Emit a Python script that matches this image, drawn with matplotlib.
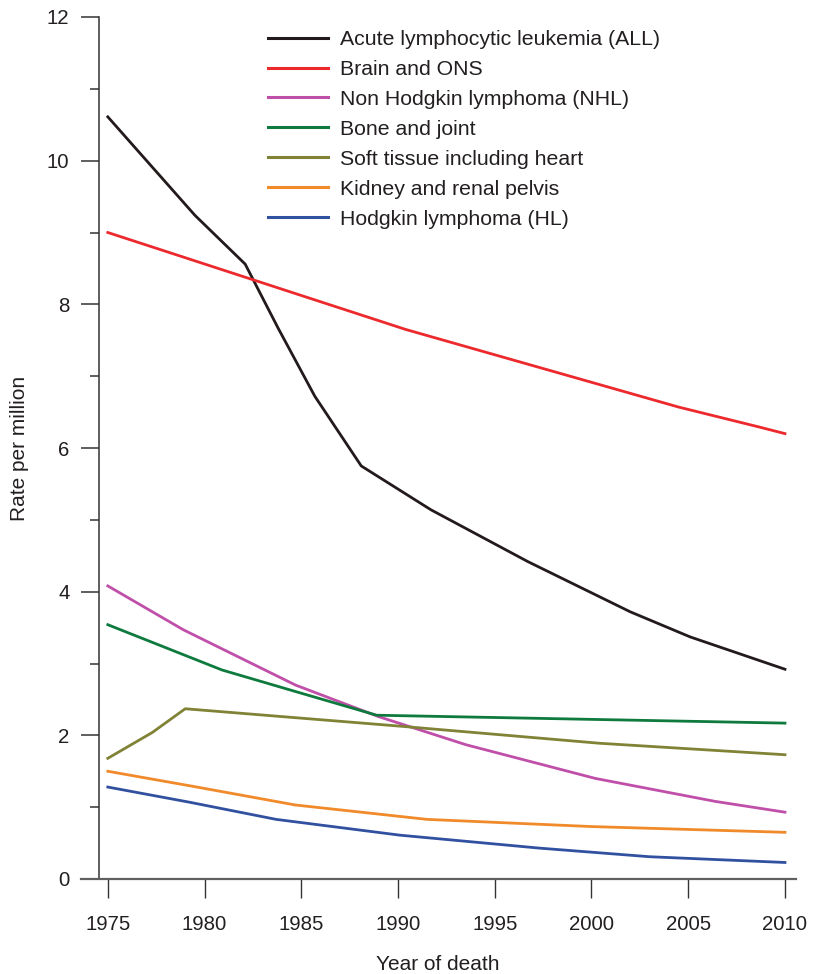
import matplotlib
matplotlib.use("Agg")
import matplotlib.pyplot as plt
from matplotlib.ticker import MultipleLocator

plt.rcParams['font.family'] = ['Liberation Sans', 'DejaVu Sans']

# ---- data ----
all_years = [1975, 1979.5, 1982.1, 1983.8, 1985.7, 1988.1, 1991.7, 1996.7, 2002.0, 2005.1, 2010]
all_rates = [10.61, 9.24, 8.56, 7.67, 6.72, 5.75, 5.14, 4.42, 3.72, 3.37, 2.92]

brain_years = [1975, 1990.4, 2004.5, 2008.7, 2010]
brain_rates = [9.0, 7.65, 6.57, 6.29, 6.20]

nhl_years = [1975, 1978.9, 1984.7, 1989.0, 1993.5, 2000.2, 2006.4, 2010]
nhl_rates = [4.08, 3.47, 2.70, 2.26, 1.87, 1.40, 1.08, 0.93]

bone_years = [1975, 1980.9, 1984.7, 1988.9, 2010]
bone_rates = [3.54, 2.91, 2.61, 2.28, 2.17]

soft_years = [1975, 1977.3, 1979.0, 1990.0, 2000.4, 2010]
soft_rates = [1.68, 2.04, 2.37, 2.13, 1.89, 1.73]

kidney_years = [1975, 1979.4, 1984.7, 1991.5, 2000.0, 2010]
kidney_rates = [1.50, 1.29, 1.03, 0.83, 0.73, 0.65]

hl_years = [1975, 1979.2, 1983.7, 1990.1, 1997.3, 2003.0, 2010]
hl_rates = [1.28, 1.07, 0.83, 0.61, 0.43, 0.31, 0.23]

labels = ["Acute lymphocytic leukemia (ALL)", "Brain and ONS", "Non Hodgkin lymphoma (NHL)",
          "Bone and joint", "Soft tissue including heart", "Kidney and renal pelvis",
          "Hodgkin lymphoma (HL)"]
colors = ["#231a1b", "#ec2a2e", "#c04fa9", "#0e7a3d", "#808335", "#f08a2b", "#3151a0"]
series = [(all_years, all_rates), (brain_years, brain_rates), (nhl_years, nhl_rates),
          (bone_years, bone_rates), (soft_years, soft_rates), (kidney_years, kidney_rates),
          (hl_years, hl_rates)]

x_ticks = [1975, 1980, 1985, 1990, 1995, 2000, 2005, 2010]
y_ticks = [0, 2, 4, 6, 8, 10, 12]

# ---- figure ----
W, H = 819, 974
fig = plt.figure(figsize=(W / 100, H / 100), dpi=100)
ax_l, ax_r, ax_t, ax_b = 99.3, 796, 17, 879
ax = fig.add_axes([ax_l / W, 1 - ax_b / H, (ax_r - ax_l) / W, (ax_b - ax_t) / H])

for (xs, ys), c, lab in zip(series, colors, labels):
    ax.plot(xs, ys, color=c, lw=2.0, label=lab, solid_joinstyle='round')

ax.set_xlim(1974.56, 2010.57)
ax.set_ylim(0, 12)

for s in ['top', 'right']:
    ax.spines[s].set_visible(False)
ax.spines['left'].set_color('#333333')
ax.spines['left'].set_linewidth(1.1)
ax.spines['bottom'].set_color('#606060')
ax.spines['bottom'].set_linewidth(1.6)
ax.spines['bottom'].set_bounds(1973.62, 2010.57)

ax.set_xticks(x_ticks)
ax.set_xticklabels([str(v) for v in x_ticks])
ax.set_yticks(y_ticks)
ax.set_yticklabels([str(v) for v in y_ticks])
ax.yaxis.set_minor_locator(MultipleLocator(1))

ax.tick_params(axis='x', direction='out', length=13.5, width=1.0, color='#333333',
               labelsize=14.7, pad=12.5, labelcolor='#231f20')
ax.tick_params(axis='y', which='major', direction='out', length=13, width=1.1, color='#333333',
               labelsize=14.7, pad=8.5, labelcolor='#231f20')
ax.tick_params(axis='y', which='minor', direction='out', length=6.5, width=1.1, color='#333333')

fig.text(20 / W, 1 - 448 / H, "Rate per million", rotation=90, ha='center', va='center',
         fontsize=15, color='#231f20')
fig.text(438 / W, 1 - 964 / H, "Year of death", ha='center', va='center',
         fontsize=15, color='#231f20')

leg = ax.legend(loc='upper left', bbox_to_anchor=(268 / W, 1 - 30 / H),
                bbox_transform=fig.transFigure, frameon=False, fontsize=15.3,
                handlelength=2.82, handletextpad=0.56, labelspacing=0.515,
                borderpad=0, borderaxespad=0)
for t in leg.get_texts():
    t.set_color('#231f20')
for h in leg.get_lines():
    h.set_linewidth(2.2)

fig.savefig("out.png", dpi=100)
